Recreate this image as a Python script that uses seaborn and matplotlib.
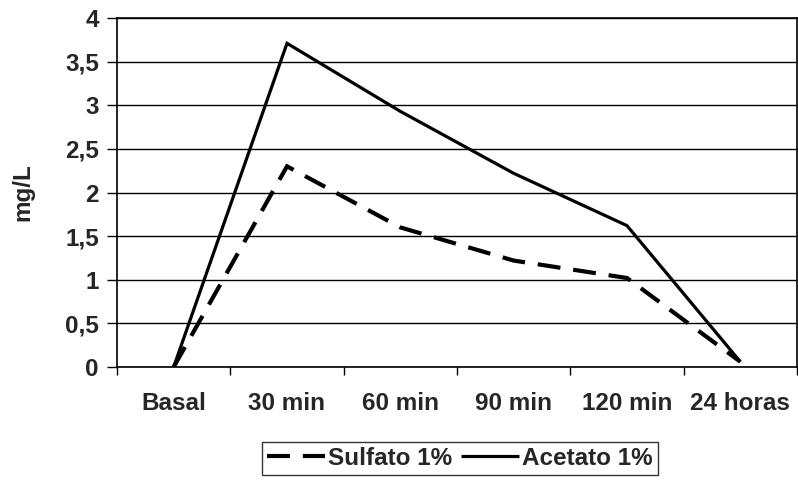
import matplotlib
matplotlib.use("Agg")
import matplotlib.pyplot as plt
import seaborn as sns
import pandas as pd
from matplotlib.ticker import FixedLocator, FixedFormatter

categories = ["Basal", "30 min", "60 min", "90 min", "120 min", "24 horas"]
sulfato = [0.0, 2.30, 1.60, 1.22, 1.02, 0.06]
acetato = [0.0, 3.71, 2.93, 2.22, 1.62, 0.06]
series_names = ["Sulfato 1%", "Acetato 1%"]
y_ticks = [0, 0.5, 1, 1.5, 2, 2.5, 3, 3.5, 4]
y_labels = ["0", "0,5", "1", "1,5", "2", "2,5", "3", "3,5", "4"]

rows = []
for name, vals in zip(series_names, [sulfato, acetato]):
    for i, v in enumerate(vals):
        rows.append({"idx": i, "value": v, "serie": name})
df = pd.DataFrame(rows)

sns.set_style("white")
plt.rcParams["font.family"] = ["Liberation Sans", "DejaVu Sans"]
plt.rcParams["font.weight"] = "bold"

FS = 17.5
LW_S = 3.0
LW_A = 2.3

fig = plt.figure(figsize=(7.98, 4.8), dpi=100)
ax = fig.add_axes([117/798, 1-367/480, (797-117)/798, (367-18)/480])

sns.lineplot(data=df, x="idx", y="value", style="serie", hue="serie",
             palette={"Sulfato 1%": "black", "Acetato 1%": "black"},
             dashes={"Sulfato 1%": (5.5, 3.1), "Acetato 1%": ""},
             style_order=series_names, hue_order=series_names,
             ax=ax, legend=True, sort=False)
lines = ax.get_lines()
lines[0].set_linewidth(LW_S)
lines[1].set_linewidth(LW_A)
for l in lines:
    l.set_solid_joinstyle("miter")
    l.set_dash_joinstyle("miter")
    l.set_solid_capstyle("butt")
    l.set_dash_capstyle("butt")

ax.set_xlim(-0.5, len(categories) - 0.5)
ax.set_ylim(0, 4)
ax.yaxis.set_major_locator(FixedLocator(y_ticks))
ax.yaxis.set_major_formatter(FixedFormatter(y_labels))
ax.xaxis.set_major_locator(FixedLocator([i - 0.5 for i in range(len(categories) + 1)]))
ax.xaxis.set_major_formatter(FixedFormatter([""] * (len(categories) + 1)))
ax.xaxis.set_minor_locator(FixedLocator(list(range(len(categories)))))
ax.xaxis.set_minor_formatter(FixedFormatter(categories))
ax.tick_params(axis="x", which="major", direction="out", length=6, width=1, color="black", bottom=True)
ax.tick_params(axis="x", which="minor", length=0, pad=18, labelsize=FS)
ax.tick_params(axis="y", which="major", direction="out", length=7, width=1, color="black", left=True, labelsize=FS, pad=6)

ax.grid(axis="y", color="black", linewidth=1)
ax.set_axisbelow(True)
for s in ax.spines.values():
    s.set_visible(True)
    s.set_color("black")
    s.set_linewidth(1.2)

ax.set_xlabel("")
ax.set_ylabel("mg/L", fontsize=FS, fontweight="bold", labelpad=22)
for t in ax.get_xticklabels(minor=True) + ax.get_yticklabels():
    t.set_fontweight("bold")

handles, labels = ax.get_legend_handles_labels()
if ax.legend_:
    ax.legend_.remove()
hmap = dict(zip(labels, handles))
hs = [hmap[n] for n in series_names]
hs[0].set_linewidth(LW_S)
hs[1].set_linewidth(LW_A)
leg = fig.legend(hs, series_names, loc="center", bbox_to_anchor=(460/798, 1-458.5/480),
                 ncol=2, frameon=True, fancybox=False, shadow=False,
                 prop={"size": FS, "weight": "bold"}, handlelength=2.4,
                 handletextpad=0.12, columnspacing=0.35, borderpad=0.2,
                 borderaxespad=0)
leg.get_frame().set_edgecolor("black")
leg.get_frame().set_linewidth(1)

fig.savefig("out.png", dpi=100)
